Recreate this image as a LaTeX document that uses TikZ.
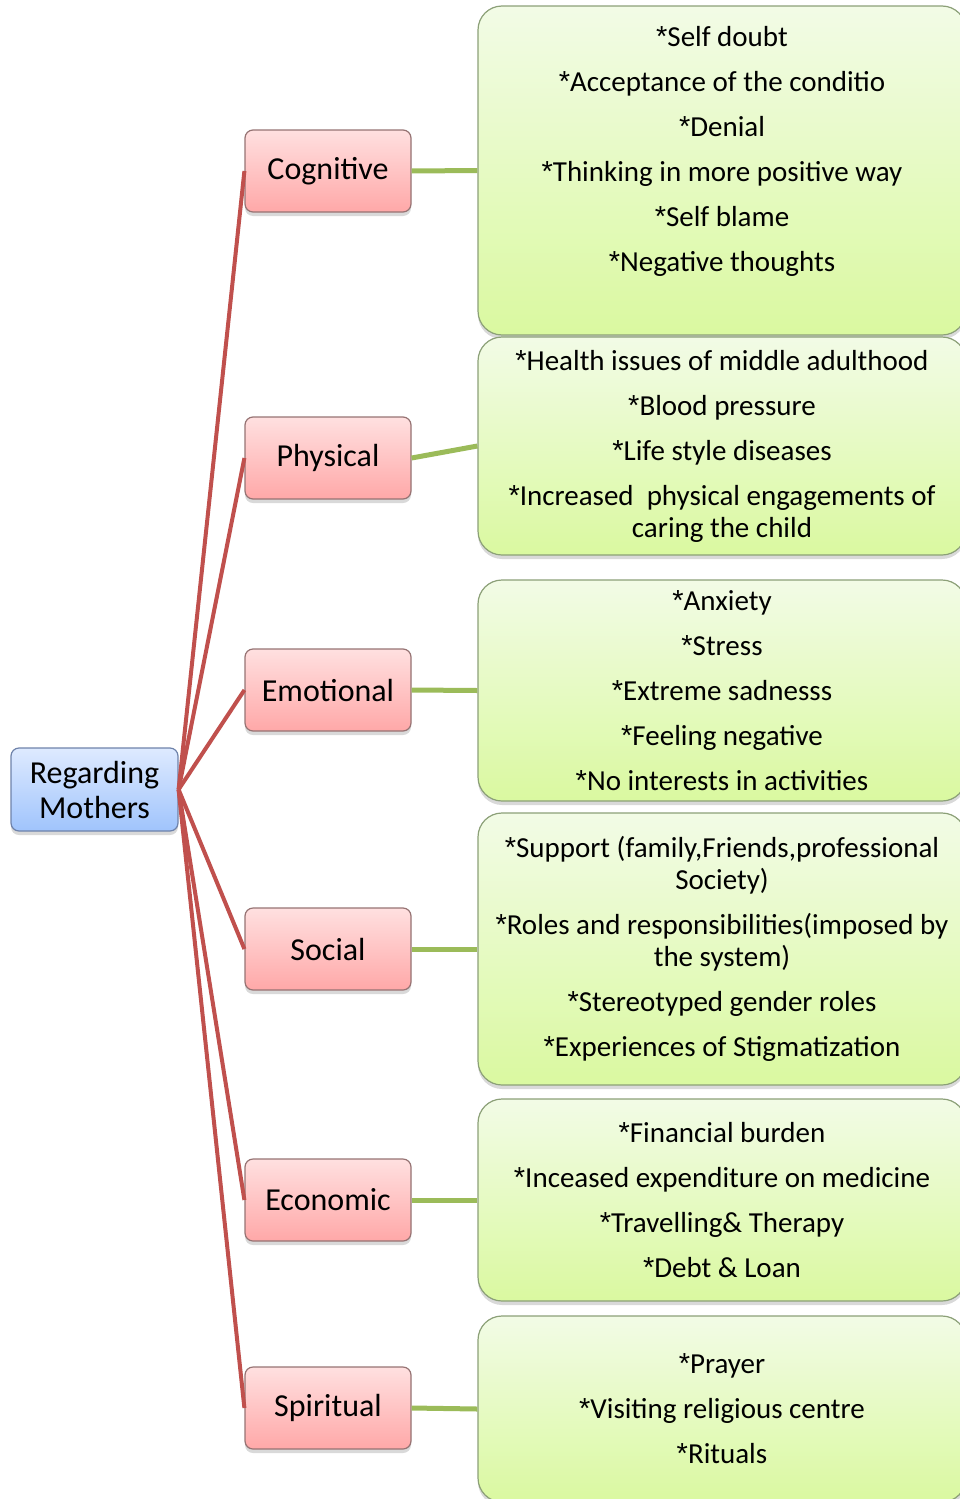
\documentclass[tikz,border=0pt]{standalone}
\usepackage{fontspec}
\setmainfont{Carlito}
\newfontfamily\astfont{Liberation Sans}
\usetikzlibrary{shadows}

\definecolor{RootTop}{RGB}{222,234,255}
\definecolor{RootBottom}{RGB}{160,196,252}
\definecolor{RootLine}{RGB}{110,130,170}
\definecolor{AspectTop}{RGB}{255,224,224}
\definecolor{AspectBottom}{RGB}{255,168,168}
\definecolor{AspectLine}{RGB}{150,115,115}
\definecolor{DetailTop}{RGB}{242,251,230}
\definecolor{DetailBottom}{RGB}{218,249,160}
\definecolor{DetailLine}{RGB}{140,160,120}
\definecolor{BranchRed}{RGB}{192,80,77}
\definecolor{BranchGreen}{RGB}{155,187,89}

\newcommand{\Ast}{{\astfont*}}

\begin{document}
\begin{tikzpicture}[
  x=1pt, y=-1pt,
  every node/.style = {draw, align=center, line width=1.2pt,
    drop shadow={opacity=0.3, shadow xshift=0pt, shadow yshift=-4pt}},
  RootStyle/.style = {draw=RootLine, top color=RootTop, bottom color=RootBottom,
    rounded corners=8pt, minimum width=167pt, minimum height=83pt,
    font=\fontsize{32}{35}\selectfont},
  AspectStyle/.style = {draw=AspectLine, top color=AspectTop, bottom color=AspectBottom,
    rounded corners=8pt, minimum width=166pt, minimum height=82pt,
    font=\fontsize{32}{35}\selectfont},
  DetailStyle/.style = {draw=DetailLine, top color=DetailTop, bottom color=DetailBottom,
    rounded corners=24pt, minimum width=488pt,
    font=\fontsize{29}{32}\selectfont}
  ]
  \useasboundingbox (0,0) rectangle (960,1499);

  \node[RootStyle] (mothers) at (94.5,789.5) {Regarding\\Mothers};

  \node[AspectStyle] (cognitive) at (328,171) {Cognitive};
  \node[AspectStyle] (physical) at (328,458) {Physical};
  \node[AspectStyle] (emotional) at (328,690) {Emotional};
  \node[AspectStyle] (social) at (328,949) {Social};
  \node[AspectStyle] (economic) at (328,1200) {Economic};
  \node[AspectStyle] (spiritual) at (328,1408) {Spiritual};

  \node[DetailStyle, minimum height=329pt] (cognitivelist) at (722,170.5)
    {\Ast Self doubt\\[13pt]
     \Ast Acceptance of the conditio\\[13pt]
     \Ast Denial\\[13pt]
     \Ast Thinking in more positive way\\[13pt]
     \Ast Self blame\\[13pt]
     \Ast Negative thoughts\\[2pt]
     \strut};
  \node[DetailStyle, minimum height=218pt] (physicallist) at (722,446)
    {\Ast Health issues of middle adulthood\\[13pt]
     \Ast Blood pressure\\[13pt]
     \Ast Life style diseases\\[13pt]
     \Ast Increased\ \ physical engagements of\\
     caring the child};
  \node[DetailStyle, minimum height=221pt] (emotionallist) at (722,690.5)
    {\Ast Anxiety\\[13pt]
     \Ast Stress\\[13pt]
     \Ast Extreme sadnesss\\[13pt]
     \Ast Feeling negative\\[13pt]
     \Ast No interests in activities};
  \node[DetailStyle, minimum height=272pt] (sociallist) at (722,949)
    {\Ast Support (family,Friends,professional\\
     Society)\\[13pt]
     \Ast Roles and responsibilities(imposed by\\
     the system)\\[13pt]
     \Ast Stereotyped gender roles\\[13pt]
     \Ast Experiences of Stigmatization};
  \node[DetailStyle, minimum height=202pt] (economiclist) at (722,1200)
    {\Ast Financial burden\\[13pt]
     \Ast Inceased expenditure on medicine\\[13pt]
     \Ast Travelling\& Therapy\\[13pt]
     \Ast Debt \& Loan};
  \node[DetailStyle, minimum height=186pt] (spirituallist) at (722,1409)
    {\Ast Prayer\\[13pt]
     \Ast Visiting religious centre\\[13pt]
     \Ast Rituals};

  \tikzset{EdgeRed/.style = {BranchRed, line width=4pt}}
  \tikzset{EdgeGreen/.style = {BranchGreen, line width=5pt}}

  \draw[EdgeRed] (mothers.east) -- (cognitive.west);
  \draw[EdgeRed] (mothers.east) -- (physical.west);
  \draw[EdgeRed] (mothers.east) -- (emotional.west);
  \draw[EdgeRed] (mothers.east) -- (social.west);
  \draw[EdgeRed] (mothers.east) -- (economic.west);
  \draw[EdgeRed] (mothers.east) -- (spiritual.west);

  \draw[EdgeGreen] (cognitive.east) -- (cognitivelist.west);
  \draw[EdgeGreen] (physical.east) -- (physicallist.west);
  \draw[EdgeGreen] (emotional.east) -- (emotionallist.west);
  \draw[EdgeGreen] (social.east) -- (sociallist.west);
  \draw[EdgeGreen] (economic.east) -- (economiclist.west);
  \draw[EdgeGreen] (spiritual.east) -- (spirituallist.west);

\end{tikzpicture}
\end{document}
